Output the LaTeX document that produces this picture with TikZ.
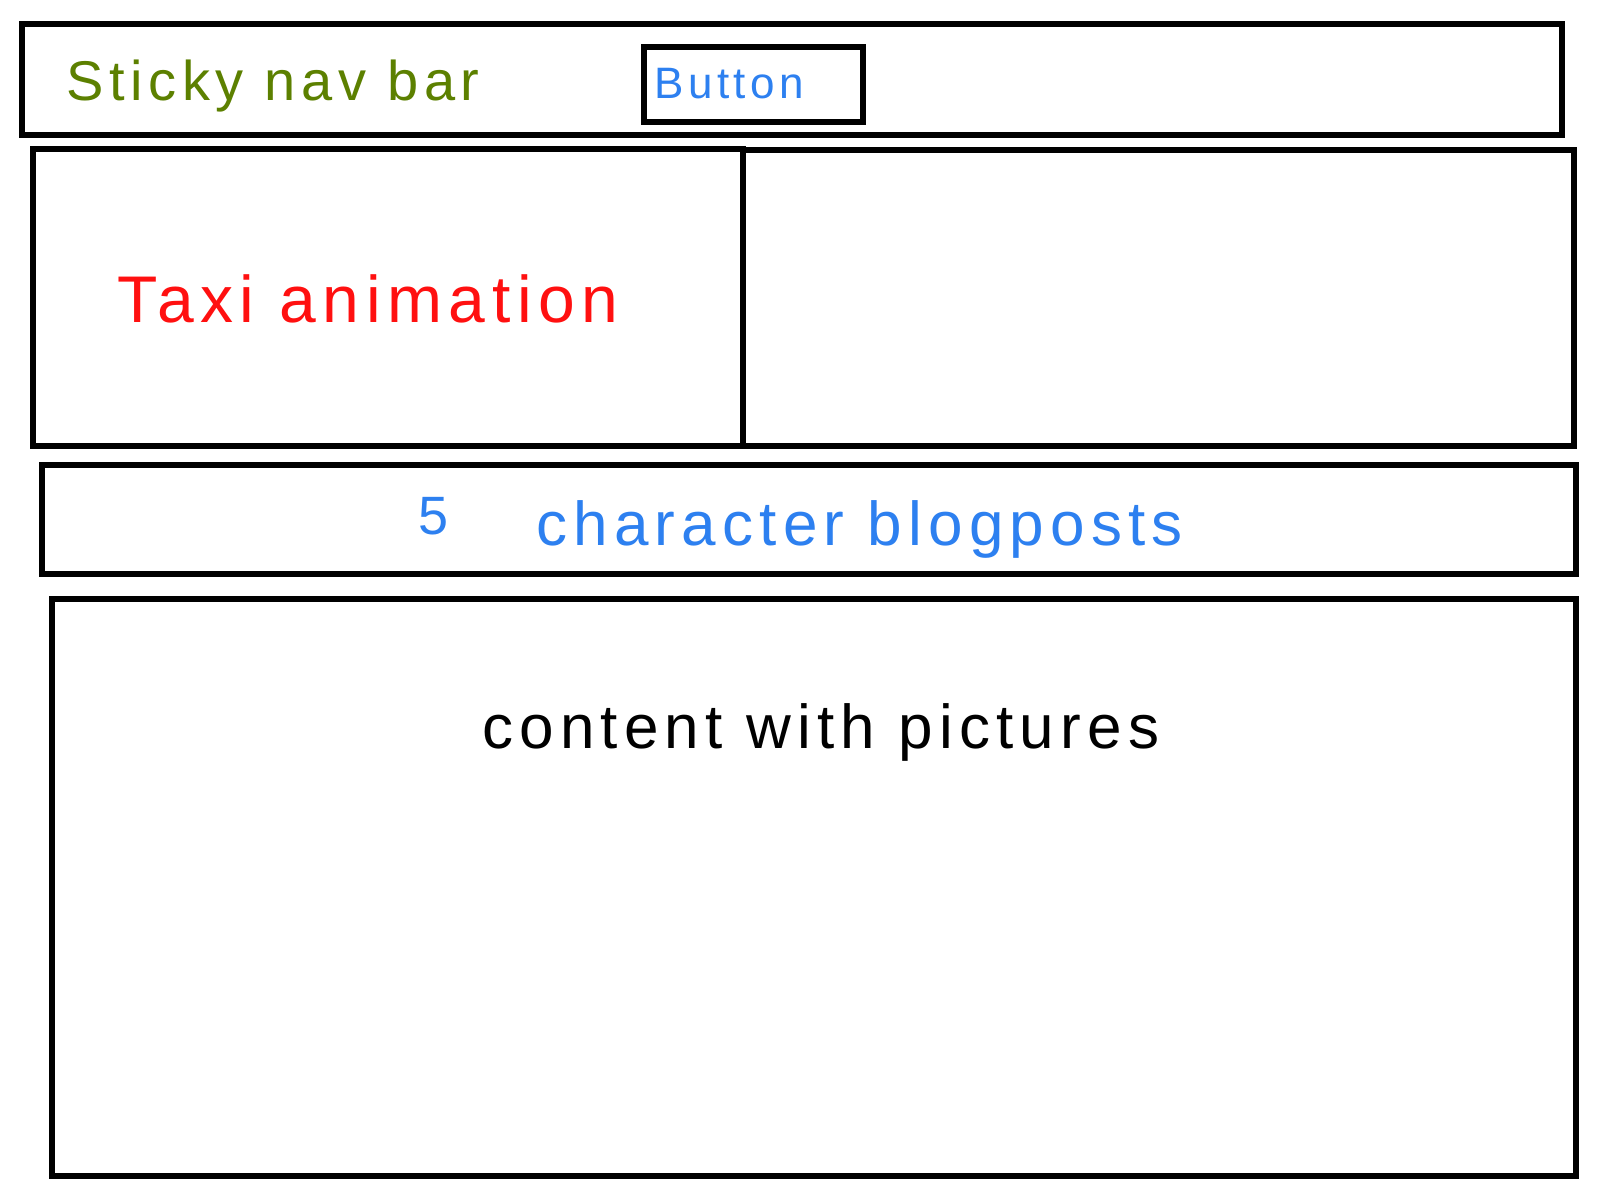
\documentclass[tikz,border=0pt]{standalone}
\usepackage{fontspec}
\setmainfont{Liberation Sans}
\newfontfamily\hand[LetterSpace=10]{Liberation Sans}
\definecolor{navgreen}{RGB}{92,128,0}
\definecolor{inkred}{RGB}{255,16,16}
\definecolor{inkblue}{RGB}{45,128,240}
\begin{document}
\begin{tikzpicture}[x=0.5pt,y=-0.5pt,
  box/.style={draw=black,line width=2.6pt},
  heavybox/.style={draw=black,line width=3.2pt},
  label/.style={inner sep=0pt,anchor=base west}]
\useasboundingbox[fill=white] (0,0) rectangle (1600,1200);
% boxes
\draw[box] (22,24) rectangle (1562,135);
\draw[box] (644,47) rectangle (863,122);
\draw[heavybox] (33,149) rectangle (743,446);
\draw[box] (743,150) rectangle (1574,446);
\draw[box] (42,465) rectangle (1576,574);
\draw[box] (52,599) rectangle (1576,1176);
% texts
\node[label,text=navgreen,font=\hand\fontsize{28}{28}\selectfont] (nav) at (66,100) {Sticky nav bar};
\node[label,text=inkblue,font=\hand\fontsize{22}{22}\selectfont] (btn) at (654,98) {Button};
\node[label,text=inkred,font=\hand\fontsize{33}{33}\selectfont] (taxi) at (117,322) {Taxi animation};
\node[label,text=inkblue,font=\hand\fontsize{27}{27}\selectfont] (five) at (418,534) {5};
\node[label,text=inkblue,font=\hand\fontsize{31}{31}\selectfont] (blog) at (536,545) {character blogposts};
\node[label,text=black,font=\hand\fontsize{31}{31}\selectfont] (content) at (482,748) {content with pictures};
\end{tikzpicture}
\end{document}
